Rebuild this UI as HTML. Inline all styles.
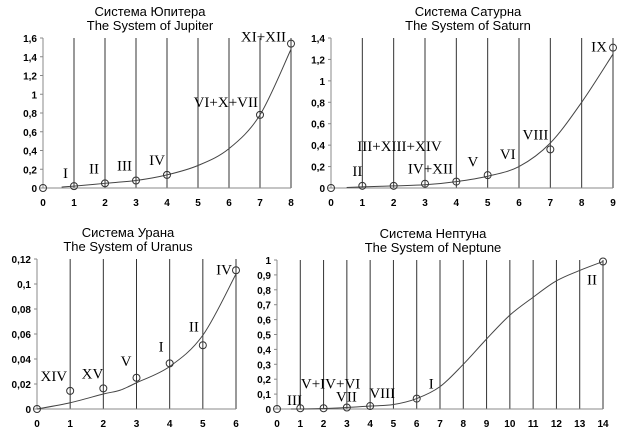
<!DOCTYPE html>
<html><head><meta charset="utf-8"><style>
body{margin:0;background:#fff;width:636px;height:443px;overflow:hidden}
svg text{font-family:"Liberation Sans",sans-serif}
.tk{font-size:10px;font-weight:bold}
.ttl{font-size:13px}
.rl{font-family:"Liberation Serif",serif!important;font-size:15px}
</style></head><body>
<svg id="c" width="636" height="443"></svg>
<script>
// Jupiter
const jupX=[0,1,2,3,4,7,8];
const jupY=[0,0.02,0.05,0.08,0.14,0.78,1.54];
const jupCurveX=[0.6,1,2,3,4,5,6,7,8];
const jupCurveY=[0.01,0.02,0.05,0.08,0.14,0.24,0.42,0.78,1.48];
const jupLabels=["","I","II","III","IV","VI+X+VII","XI+XII"];
const jupYTicks=["0","0,2","0,4","0,6","0,8","1","1,2","1,4","1,6"];
// Saturn
const satX=[0,1,2,3,4,5,7,9];
const satY=[0,0.02,0.02,0.04,0.06,0.12,0.36,1.31];
const satCurveX=[0.5,1,2,3,4,5,6,7,8,9];
const satCurveY=[0.005,0.01,0.02,0.03,0.06,0.11,0.2,0.42,0.8,1.25];
const satLabels=["","II","III+XIII+XIV","IV+XII","V","VI","VIII","IX"];
const satYTicks=["0","0,2","0,4","0,6","0,8","1","1,2","1,4"];
// Uranus
const uraX=[0,1,2,3,4,5,6];
const uraY=[0,0.0145,0.0165,0.025,0.0365,0.051,0.111];
const uraCurveX=[0,1,2,2.5,3,4,5,6];
const uraCurveY=[0,0.005,0.012,0.015,0.021,0.034,0.059,0.108];
const uraLabels=["","XIV","XV","V","I","II","IV"];
const uraYTicks=["0","0,02","0,04","0,06","0,08","0,1","0,12"];
// Neptune
const nepX=[0,1,2,3,4,6,14];
const nepY=[0,0.005,0.005,0.01,0.02,0.07,0.99];
const nepCurveX=[0.6,1,2,3,4,5,6,7,8,9,10,11,12,13,14];
const nepCurveY=[0,0,0.003,0.01,0.02,0.03,0.07,0.15,0.3,0.47,0.63,0.75,0.86,0.93,0.99];
const nepLabels=["III","V+IV+VI","","VII","VIII","I","II"];
const nepYTicks=["0","0,1","0,2","0,3","0,4","0,5","0,6","0,7","0,8","0,9","1"];

const NS="http://www.w3.org/2000/svg";
const svg=document.getElementById('c');
function mk(t,a,p){const e=document.createElementNS(NS,t);for(const k in a)e.setAttribute(k,a[k]);(p||svg).appendChild(e);return e;}

function chart(o){
  const g=mk('g',{});
  
  
  const sx=v=>o.x0+(o.x1-o.x0)*v/o.xmax;
  const sy=v=>o.y0-(o.y0-o.y1)*v/o.ymax;
  const t1=mk('text',{x:o.tx,y:o.y1-22,'text-anchor':'middle',class:'ttl'},g);t1.textContent=o.t1;
  
  
  const t2=mk('text',{x:o.tx,y:o.y1-8,'text-anchor':'middle',class:'ttl'},g);t2.textContent=o.t2;
  
  
  for(let i=1;i<=o.xmax;i++){const l=mk('line',{x1:sx(i),x2:sx(i),y1:o.y1,y2:o.y0,stroke:'#333','stroke-width':1},g);
    
    }
  const ya=mk('line',{x1:o.x0,x2:o.x0,y1:o.y1,y2:o.y0,stroke:'#888'},g);
  
  
  const xa=mk('line',{x1:o.x0,x2:o.x1,y1:o.y0,y2:o.y0,stroke:'#888'},g);
  
  
  o.yticks.forEach((s,i)=>{const v=o.ymax*i/(o.yticks.length-1);
    mk('line',{x1:o.x0-3,x2:o.x0,y1:sy(v),y2:sy(v),stroke:'#888'},g);
    const t=mk('text',{x:o.x0-6,y:sy(v)+4,'text-anchor':'end',class:'tk'},g);t.textContent=s;
    
    });
  for(let i=0;i<=o.xmax;i++){const t=mk('text',{x:sx(i),y:o.y0+18,'text-anchor':'middle',class:'tk'},g);t.textContent=i;
    
    }
  const P=o.cx.map((x,i)=>[sx(x),sy(o.cy[i])]);
  let d='M'+P[0][0]+','+P[0][1];
  for(let i=0;i<P.length-1;i++){const p0=P[Math.max(0,i-1)],p1=P[i],p2=P[i+1],p3=P[Math.min(P.length-1,i+2)];
    d+=' C'+(p1[0]+(p2[0]-p0[0])/6)+','+(p1[1]+(p2[1]-p0[1])/6)+' '+(p2[0]-(p3[0]-p1[0])/6)+','+(p2[1]-(p3[1]-p1[1])/6)+' '+p2[0]+','+p2[1];}
  const c=mk('path',{d:d,fill:'none',stroke:'#444','stroke-width':1},g);
  
  
  o.px.forEach((x,i)=>{const p=mk('circle',{cx:sx(x),cy:sy(o.py[i]),r:3.5,fill:'none',stroke:'#333'},g);
    
    
    const s=o.lab[i];if(!s)return;const off=o.off[i];
    const t=mk('text',{x:sx(x)+off[0],y:sy(o.py[i])+off[1],'text-anchor':'end',class:'rl'},g);t.textContent=s;
    
    });
}
chart({name:'jupiter-chart',t1:'Система Юпитера',t2:'The System of Jupiter',tx:150,x0:43,x1:291,y0:188,y1:38,xmax:8,ymax:1.6,yticks:jupYTicks,px:jupX,py:jupY,cx:jupCurveX,cy:jupCurveY,lab:jupLabels,off:[[0,0],[-6,-8],[-6,-10],[-4,-10],[-2,-10],[-2,-8],[-5,-2]]});
chart({name:'saturn-chart',t1:'Система Сатурна',t2:'The System of Saturn',tx:468,x0:331,x1:613,y0:188,y1:38,xmax:9,ymax:1.4,yticks:satYTicks,px:satX,py:satY,cx:satCurveX,cy:satCurveY,lab:satLabels,off:[[0,0],[0,-10],[48,-35],[28,-10],[22,-15],[28,-16],[-2,-10],[-6,4]]});
chart({name:'uranus-chart',t1:'Система Урана',t2:'The System of Uranus',tx:128,x0:37,x1:236,y0:409,y1:259,xmax:6,ymax:0.12,yticks:uraYTicks,px:uraX,py:uraY,cx:uraCurveX,cy:uraCurveY,lab:uraLabels,off:[[0,0],[-3,-10],[0,-10],[-5,-12],[-6,-12],[-4,-14],[-4,4]]});
chart({name:'neptune-chart',t1:'Система Нептуна',t2:'The System of Neptune',tx:433,x0:277,x1:603,y0:409,y1:260,xmax:14,ymax:1,yticks:nepYTicks,px:nepX,py:nepY,cx:nepCurveX,cy:nepCurveY,lab:nepLabels,off:[[25,-4],[60,-20],[0,0],[10,-6],[25,-8],[17,-10],[-6,23]]});
</script>
</body></html>
